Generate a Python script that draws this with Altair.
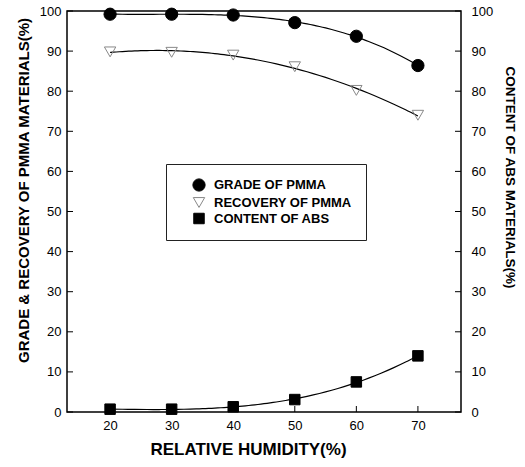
import altair as alt
import pandas as pd

humidity = [20, 30, 40, 50, 60, 70]
grade = [99.2, 99.2, 99.0, 97.1, 93.7, 86.4]
recovery = [89.8, 89.7, 89.0, 86.1, 80.2, 74.0]
abs_content = [0.7, 0.7, 1.3, 3.1, 7.5, 14.0]
x_ticks = [20, 30, 40, 50, 60, 70]
y_ticks = [0, 10, 20, 30, 40, 50, 60, 70, 80, 90, 100]

S_G = "GRADE OF PMMA"
S_R = "RECOVERY OF PMMA"
S_A = "CONTENT OF ABS"
series_order = [S_G, S_R, S_A]

left_df = pd.DataFrame({
    "h": humidity * 2,
    "v": grade + recovery,
    "s": [S_G] * 6 + [S_R] * 6,
})
right_df = pd.DataFrame({"h": humidity, "v": abs_content, "s": [S_A] * 6})
xt_df = pd.DataFrame({"t": x_ticks})
yt_df = pd.DataFrame({"t": y_ticks})

W, H = 394, 401
FONT = "Liberation Sans"

xs = alt.Scale(domain=[13, 77], nice=False)
ys = alt.Scale(domain=[0, 100], nice=False)

x_enc = alt.X("h:Q", scale=xs, axis=alt.Axis(
    values=x_ticks, ticks=False, labelPadding=7, grid=False, domain=False,
    title="RELATIVE HUMIDITY(%)", titlePadding=9, titleFontSize=17,
    titleX=181, titleAlign="center"))

legend = alt.Legend(orient="none", legendX=99, legendY=153, padding=14,
                    symbolOffset=12, strokeColor="#222", fillColor="white",
                    labelFontSize=13, labelFontWeight="bold", labelFont=FONT,
                    labelColor="black", rowPadding=1, labelOffset=8,
                    symbolStrokeWidth=1)
shape_enc = alt.Shape("s:N", title=None, legend=legend, scale=alt.Scale(
    domain=series_order, range=["circle", "triangle-down", "square"]))
fill_enc = alt.Fill("s:N", title=None, legend=legend, scale=alt.Scale(
    domain=series_order, range=["black", "transparent", "black"]))
stroke_enc = alt.Stroke("s:N", title=None, legend=legend, scale=alt.Scale(
    domain=series_order, range=["black", "#888888", "black"]))
size_enc = alt.Size("s:N", title=None, legend=legend, scale=alt.Scale(
    domain=series_order, range=[150, 110, 110]))

def lines(df):
    return alt.Chart(df).transform_regression(
        "h", "v", groupby=["s"], method="poly", order=3, extent=[20, 70]
    ).mark_line(color="black", strokeWidth=1.2, interpolate="monotone").encode(
        x=x_enc, y=alt.Y("v:Q", scale=ys), detail="s:N")

def points(df, yaxis):
    return alt.Chart(df).mark_point(filled=False, opacity=1, strokeWidth=1).encode(
        x=x_enc, y=alt.Y("v:Q", scale=ys, axis=yaxis),
        shape=shape_enc, fill=fill_enc, stroke=stroke_enc, size=size_enc)

left_axis = alt.Axis(values=y_ticks, ticks=False, labelPadding=6, grid=False,
                     domain=False, title="GRADE & RECOVERY OF PMMA MATERIALS(%)",
                     titlePadding=8, titleFontSize=15, titleY=179,
                     titleAlign="center")
right_axis = alt.Axis(orient="right", values=y_ticks, ticks=False, labelPadding=10,
                      grid=False, domain=False,
                      title="CONTENT OF ABS MATERIALS(%)", titlePadding=10,
                      titleFontSize=13.5, titleY=166, titleAlign="center")

bottom_ticks = alt.Chart(xt_df).mark_rule(color="black", strokeWidth=1).encode(
    x=alt.X("t:Q", scale=xs), y=alt.value(H), y2=alt.value(H - 6))
left_ticks = alt.Chart(yt_df).mark_rule(color="black", strokeWidth=1).encode(
    y=alt.Y("t:Q", scale=ys), x=alt.value(0), x2=alt.value(6))
right_ticks = alt.Chart(yt_df).mark_rule(color="black", strokeWidth=1).encode(
    y=alt.Y("t:Q", scale=ys), x=alt.value(W - 6), x2=alt.value(W))

left_layer = alt.layer(lines(left_df), points(left_df, left_axis), left_ticks, bottom_ticks)
right_layer = alt.layer(lines(right_df), points(right_df, right_axis), right_ticks)

chart = alt.layer(left_layer, right_layer).resolve_scale(y="independent").properties(
    width=W, height=H,
    autosize=alt.AutoSizeParams(type="none"),
    padding={"left": 67, "top": 11, "right": 64, "bottom": 55},
    background="white",
).configure_view(stroke="black", strokeWidth=1.5).configure_axis(
    labelFont=FONT, labelFontSize=13, labelColor="black",
    titleFont=FONT, titleFontWeight="bold", titleColor="black",
)

chart.save("out.html", embed_options={"renderer": "svg", "actions": False})
